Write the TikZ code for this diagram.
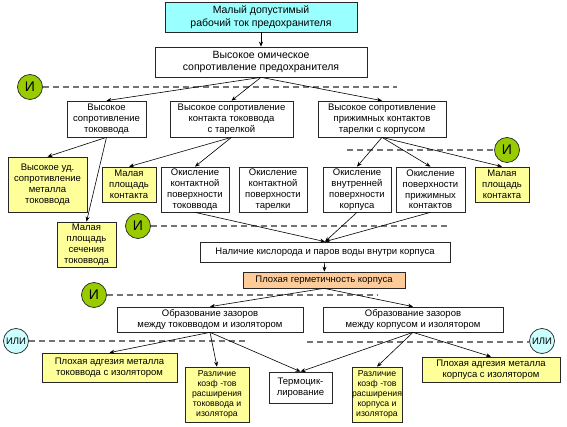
\documentclass[tikz,border=0pt]{standalone}
\usepackage{fontspec}
\setmainfont{Liberation Sans}
\usetikzlibrary{arrows.meta,shadows}
\definecolor{yel}{HTML}{FFFF99}
\definecolor{cya}{HTML}{99FFFF}
\definecolor{ora}{HTML}{FFCC99}
\definecolor{grn}{HTML}{99CC00}
\definecolor{lcy}{HTML}{CCFFFF}
\tikzset{
  bx/.style={draw=black!85, line width=0.7pt, fill=white, align=center, inner sep=1pt,
    font=\fontsize{9.5}{10.8}\selectfont,
    drop shadow={shadow xshift=1pt, shadow yshift=-1pt, fill=black!45, opacity=1}},
  big/.style={font=\fontsize{10.5}{12.6}\selectfont},
  sml/.style={font=\fontsize{8.7}{10}\selectfont},
  gate/.style={circle, draw=black!85, line width=0.7pt, minimum size=25pt, inner sep=0pt, font=\fontsize{14}{14}\selectfont},
  andg/.style={gate, fill=grn},
  org/.style={gate, fill=lcy, font=\fontsize{9.5}{10}\selectfont},
  dl/.style={draw=black!55, line width=1.1pt, dash pattern=on 6pt off 4pt},
  ar/.style={draw=black, line width=0.6pt, -{Stealth[length=5pt,width=4pt]}}
}
\begin{document}
\begin{tikzpicture}[x=1pt,y=-1pt]
\useasboundingbox (0,0) rectangle (567,427);
% gates and dashed lines
\node[andg] (g1) at (30,87) {И};
\node[andg] (g2) at (507,150) {И};
\node[andg] (g3) at (138,226) {И};
\node[andg] (g4) at (94,295) {И};
\node[org] (o1) at (16,341) {ИЛИ};
\node[org] (o2) at (542,341) {ИЛИ};
\coordinate (d1) at (397,87);
\coordinate (d2) at (347,150);
\coordinate (d3) at (450,226);
\coordinate (d4) at (378,296);
\coordinate (d5) at (247,342);
\coordinate (d6) at (307,342);
\draw[dl] (g1.east) -- (g1.east -| d1);
\draw[dl] (d2) -- (d2 -| g2.west);
\draw[dl] (g3.east) -- (g3.east -| d3);
\draw[dl] (g4.east) -- (g4.east -| d4);
\draw[dl] (o1.east) -- (o1.east -| d5);
\draw[dl] (d6) -- (d6 -| o2.west);
% boxes
\node[bx,big,fill=cya,minimum width=192pt,minimum height=30pt] (top) at (261,17) {Малый допустимый\\рабочий ток предохранителя};
\node[bx,big,minimum width=212pt,minimum height=30pt] (om) at (261,62) {Высокое омическое\\сопротивление предохранителя};
\node[bx,minimum width=79pt,minimum height=36pt] (A) at (106.5,119) {Высокое\\сопротивление\\токоввода};
\node[bx,minimum width=123pt,minimum height=36pt] (B) at (231.5,119) {Высокое сопротивление\\контакта токоввода\\с тарелкой};
\node[bx,minimum width=128pt,minimum height=36pt] (C) at (382,119) {Высокое сопротивление\\прижимных контактов\\тарелки с корпусом};
\node[bx,fill=yel,minimum width=79pt,minimum height=55pt] (D) at (47.5,184.5) {Высокое уд.\\сопротивление\\металла\\токоввода};
\node[bx,fill=yel,minimum width=59pt,minimum height=45pt] (E) at (86.5,244.5) {Малая\\площадь\\сечения\\токоввода};
\node[bx,fill=yel,minimum width=54pt,minimum height=35pt] (F) at (129,184.5) {Малая\\площадь\\контакта};
\node[bx,minimum width=68pt,minimum height=45pt] (G) at (195,189.5) {Окисление\\контактной\\поверхности\\токоввода};
\node[bx,minimum width=68pt,minimum height=45pt] (H) at (273,189.5) {Окисление\\контактной\\поверхности\\тарелки};
\node[bx,minimum width=68pt,minimum height=45pt] (I) at (357,189.5) {Окисление\\внутренней\\поверхности\\корпуса};
\node[bx,minimum width=69pt,minimum height=45pt] (J) at (430.5,189.5) {Окисление\\поверхности\\прижимных\\контактов};
\node[bx,fill=yel,minimum width=54pt,minimum height=35pt] (K) at (502,184.5) {Малая\\площадь\\контакта};
\node[bx,minimum width=250pt,minimum height=20pt] (L) at (325,252) {Наличие кислорода и паров воды внутри корпуса};
\node[bx,fill=ora,minimum width=162pt,minimum height=16pt] (M) at (324,280) {Плохая герметичность корпуса};
\node[bx,minimum width=186pt,minimum height=25pt] (N) at (210,319.5) {Образование зазоров\\между токовводом и изолятором};
\node[bx,minimum width=180pt,minimum height=25pt] (O) at (413,319.5) {Образование зазоров\\между корпусом и изолятором};
\node[bx,fill=yel,minimum width=135pt,minimum height=29pt] (P) at (109.5,367.5) {Плохая адгезия металла\\токоввода с изолятором};
\node[bx,sml,fill=yel,minimum width=64pt,minimum height=55pt] (Q) at (217,394.5) {Различие\\коэф -тов\\расширения\\токоввода и\\изолятора};
\node[bx,minimum width=63pt,minimum height=31pt] (R) at (300.5,387.5) {Термоцик-\\лирование};
\node[bx,sml,fill=yel,minimum width=48pt,minimum height=55pt,inner sep=0pt] (S) at (377,394.5) {Различие\\коэф -тов\\расширения\\корпуса и\\изолятора};
\node[bx,fill=yel,minimum width=138pt,minimum height=25pt] (T) at (491,369.5) {Плохая адгезия металла\\корпуса с изолятором};
% connectors
\draw[ar] (top) -- (om);
\draw[ar] (om.south) -- (A.north);
\draw[ar] (om.south) -- (B.north);
\draw[ar] (om.south) -- (C.north);
\draw[ar] (A.south) -- (D.north);
\draw[ar] (A.south) -- (E.north);
\draw[ar] (B.south) -- (F.north);
\draw[ar] (B.south) -- (G.north);
\draw[ar] (C.south) -- (I.north);
\draw[ar] (C.south) -- (J.north);
\draw[ar] (C.south) -- (K.north);
\draw[ar] (G.south) -- (L.north);
\draw[ar] (I.south) -- (L.north);
\draw[ar] (J.south) -- (L.north);
\draw[ar] (L) -- (M);
\draw[ar] (M.south) -- (N.north);
\draw[ar] (M.south) -- (O.north);
\draw[ar] (N.south) -- (P.north);
\draw[ar] (N.south) -- (Q.north);
\draw[ar] (N.south) -- (R.north);
\draw[ar] (O.south) -- (R.north);
\draw[ar] (O.south) -- (S.north);
\draw[ar] (O.south) -- (T.north);
\end{tikzpicture}
\end{document}
